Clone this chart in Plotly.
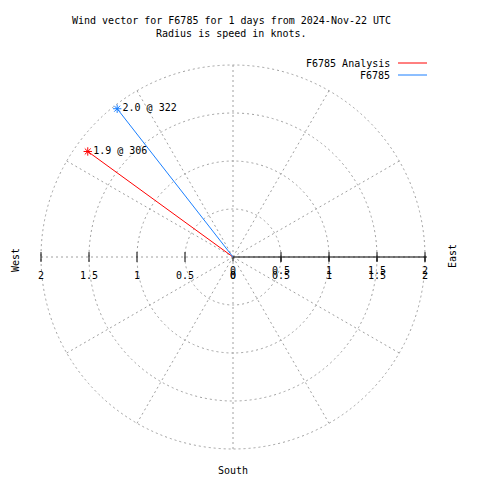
import plotly.graph_objects as go

# ---- data ----
series_names = ["F6785 Analysis", "F6785"]
speeds = [1.87, 1.96]          # knots
directions = [306, 322]        # compass degrees
series_colors = ["#ff0000", "#1a7fff"]

radial_ticks = [0, 0.5, 1, 1.5, 2]
radial_ticktext = ["0", "0.5", "1", "1.5", "2"]
radial_max = 2.02

title_lines = ["Wind vector for F6785 for 1 days from 2024-Nov-22 UTC",
               "Radius is speed in knots."]

FONT = "DejaVu Sans Mono"
GRID = "#a0a0a0"
DASH = "2px,3px"
W = H = 480
OFF = 8  # page body margin
CX, CY, R2 = 233, 257, 192   # centre and radius (r=2) in page pixels


def px_x(p):
    return (p - OFF) / W


def px_y(p):
    return 1 - (p - OFF) / H


fig = go.Figure()

for name, spd, d, col in zip(series_names, speeds, directions, series_colors):
    fig.add_trace(go.Scatterpolar(
        r=[0, spd], theta=[d, d], mode="lines",
        line=dict(color=col, width=1), name=name, showlegend=False))
    fig.add_trace(go.Scatterpolar(
        r=[spd], theta=[d], mode="markers+text",
        marker=dict(symbol="asterisk-open", size=7, color=col,
                    line=dict(color=col, width=1)),
        text=[f"{spd:.1f} @ {d}"], textposition="middle right",
        textfont=dict(family=FONT, size=10, color="black"),
        showlegend=False, hoverinfo="skip"))

# crossing tick marks on both the west and east radii
for side in (270, 90):
    fig.add_trace(go.Scatterpolar(
        r=radial_ticks[1:], theta=[side] * (len(radial_ticks) - 1), mode="markers",
        marker=dict(symbol="line-ns", size=7, color="black",
                    line=dict(color="black", width=1)),
        showlegend=False, hoverinfo="skip"))
    # labels below the radius (east side duplicates the axis labels, as in the original)
    fig.add_trace(go.Scatterpolar(
        r=radial_ticks, theta=[side] * len(radial_ticks), mode="markers+text",
        marker=dict(size=22, color="rgba(0,0,0,0)"),
        text=radial_ticktext, textposition="bottom center",
        textfont=dict(family=FONT, size=10, color="black"),
        showlegend=False, hoverinfo="skip"))

Rdom = R2 * radial_max / 2
fig.update_layout(
    width=W, height=H,
    margin=dict(l=0, r=0, t=0, b=0),
    paper_bgcolor="white", plot_bgcolor="white",
    showlegend=False,
    font=dict(family=FONT, size=10, color="black"),
    polar=dict(
        domain=dict(x=[px_x(CX - Rdom), px_x(CX + Rdom)],
                    y=[px_y(CY + Rdom), px_y(CY - Rdom)]),
        bgcolor="white",
        angularaxis=dict(rotation=90, direction="clockwise", dtick=30,
                         showticklabels=False, ticks="", showline=False,
                         showgrid=True, gridcolor=GRID, griddash=DASH,
                         gridwidth=1),
        radialaxis=dict(range=[0, radial_max], tickvals=radial_ticks,
                        ticktext=radial_ticktext, angle=0, tickangle=0,
                        showline=True, linecolor="black", linewidth=1,
                        ticks="outside", ticklen=4, tickcolor="black",
                        showgrid=True, gridcolor=GRID, griddash=DASH,
                        gridwidth=1,
                        tickfont=dict(family=FONT, size=10, color="black")),
    ),
)

# title
for i, line in enumerate(title_lines):
    fig.add_annotation(x=px_x(231), y=px_y(20 + 13 * i), xref="paper", yref="paper",
                       text=line, showarrow=False,
                       font=dict(family=FONT, size=10), xanchor="center",
                       yanchor="middle")

# compass labels
for txt, x, y, ang in [("West", 15, 260, -90), ("East", 452, 256, -90),
                       ("South", 233, 470, 0)]:
    fig.add_annotation(x=px_x(x), y=px_y(y), xref="paper", yref="paper",
                       text=txt, textangle=ang, showarrow=False,
                       xanchor="center", yanchor="middle",
                       font=dict(family=FONT, size=10))

# legend (text right-aligned, sample line on the right)
for i, (name, col) in enumerate(zip(series_names, series_colors)):
    ypx = 63 + 12 * i
    fig.add_annotation(x=px_x(392), y=px_y(ypx), xref="paper", yref="paper",
                       text=name, showarrow=False, xanchor="right",
                       yanchor="middle", font=dict(family=FONT, size=10))
    fig.add_shape(type="line", xref="paper", yref="paper",
                  x0=px_x(398), x1=px_x(427), y0=px_y(ypx), y1=px_y(ypx),
                  line=dict(color=col, width=1))

fig.write_html("out.html")
